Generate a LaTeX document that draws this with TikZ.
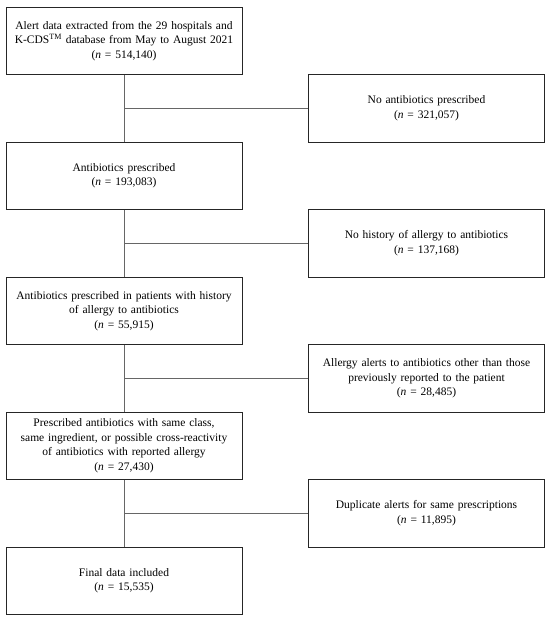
\documentclass[tikz,border=0pt]{standalone}
\usepackage{fontspec}
\setmainfont{Liberation Serif}
\usepackage{tikz}
\newcommand{\ncount}[1]{(\textit{n} = #1)}
\tikzset{
    flowbox/.style={
        rectangle,
        draw=black!85,
        line width=0.8pt,
        minimum width=236pt,
        minimum height=67.5pt,
        text width=230pt,
        inner sep=0pt,
        align=center,
        font=\fontsize{11.5}{14.5}\selectfont
    },
    link/.style={
        draw=black!60,
        line width=0.6pt
    },
    x=1pt,
    y=-1pt
}

\begin{document}
\begin{tikzpicture}
    \useasboundingbox (0,0) rectangle (550,619);
    % main column
    \node[flowbox] (alert) at (124, 40.75) {Alert data extracted from the 29 hospitals and\\ K-CDS\textsuperscript{TM} database from May to August 2021\\ \ncount{514,140}};
    \node[flowbox] (abx)   at (124,175.75) {Antibiotics prescribed\\ \ncount{193,083}};
    \node[flowbox] (hist)  at (124,310.75) {Antibiotics prescribed in patients with history\\ of allergy to antibiotics\\ \ncount{55,915}};
    \node[flowbox] (cross) at (124,445.75) {Prescribed antibiotics with same class,\\ same ingredient, or possible cross-reactivity\\ of antibiotics with reported allergy\\ \ncount{27,430}};
    \node[flowbox] (final) at (124,580.75) {Final data included\\ \ncount{15,535}};
    % excluded
    \node[flowbox] (noabx)  at (426.5,108.25) {No antibiotics prescribed\\ \ncount{321,057}};
    \node[flowbox] (nohist) at (426.5,243.25) {No history of allergy to antibiotics\\ \ncount{137,168}};
    \node[flowbox] (other)  at (426.5,378.25) {Allergy alerts to antibiotics other than those\\ previously reported to the patient\\ \ncount{28,485}};
    \node[flowbox] (dup)    at (426.5,513.25) {Duplicate alerts for same prescriptions\\ \ncount{11,895}};
    \foreach \a/\b/\r in {alert/abx/noabx, abx/hist/nohist, hist/cross/other, cross/final/dup} {
        \draw[link] (\a) -- (\b);
        \draw[link] (\a.south |- \r.west) -- (\r.west);
    }
\end{tikzpicture}
\end{document}
